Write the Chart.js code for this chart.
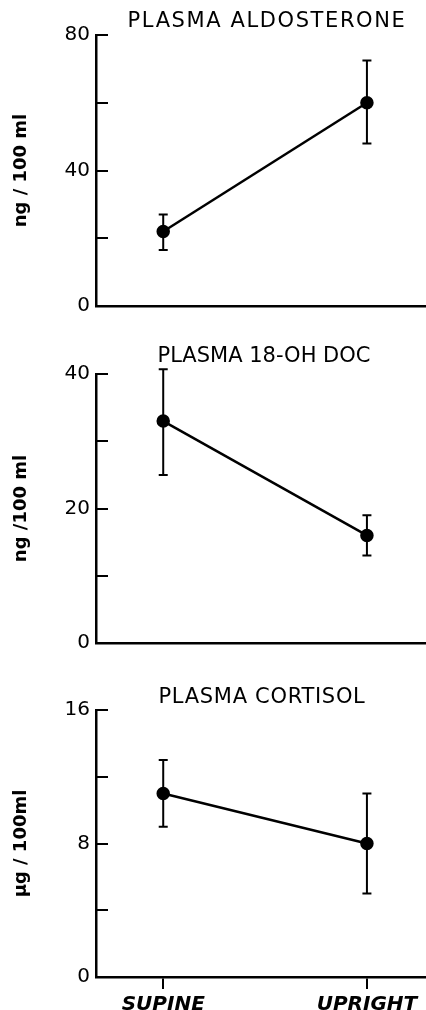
<!DOCTYPE html>
<html>
<head>
<meta charset="utf-8">
<script src="https://cdn.jsdelivr.net/npm/chart.js@4.4.1/dist/chart.umd.min.js"></script>
<style>
  html, body { margin: 0; padding: 0; background: #fff; }
  body { width: 426px; height: 1010px; position: relative; overflow: hidden; }
  canvas { position: absolute; left: 0; }
</style>
</head>
<body>
<canvas id="c1" width="426" height="330" style="top:0"></canvas>
<canvas id="c2" width="426" height="335" style="top:330px"></canvas>
<canvas id="c3" width="426" height="345" style="top:665px"></canvas>
<script>
// categories (x)
const positions = ["SUPINE", "UPRIGHT"];

// plasma aldosterone, ng/100 ml
const aldoMean = [22, 60];
const aldoLow = [16.5, 48];
const aldoHigh = [27, 72.5];
const aldoTicks = [0, 20, 40, 60, 80];
const aldoTickLabels = ["0", "", "40", "", "80"];

// plasma 18-OH DOC, ng/100 ml
const docMean = [33, 16];
const docLow = [25, 13];
const docHigh = [40.7, 19];
const docTicks = [0, 10, 20, 30, 40];
const docTickLabels = ["0", "", "20", "", "40"];

// plasma cortisol, ug/100 ml
const cortMean = [11, 8];
const cortLow = [9, 5];
const cortHigh = [13, 11];
const cortTicks = [0, 4, 8, 12, 16];
const cortTickLabels = ["0", "", "8", "", "16"];

const FONT = "'DejaVu Sans', sans-serif";

// 에러바 그리기
const errorBars = {
  id: "errorBars",
  afterDatasetsDraw(chart) {
    const ctx = chart.ctx;
    const y = chart.scales.y;
    const ds = chart.data.datasets[0];
    const meta = chart.getDatasetMeta(0);
    ctx.save();
    ctx.strokeStyle = "#000";
    ctx.lineWidth = 2;
    meta.data.forEach((pt, i) => {
      const yh = y.getPixelForValue(ds.errHigh[i]);
      const yl = y.getPixelForValue(ds.errLow[i]);
      ctx.beginPath();
      ctx.moveTo(pt.x, yh);
      ctx.lineTo(pt.x, yl);
      ctx.moveTo(pt.x - 4.5, yh);
      ctx.lineTo(pt.x + 4.5, yh);
      ctx.moveTo(pt.x - 4.5, yl);
      ctx.lineTo(pt.x + 4.5, yl);
      ctx.stroke();
    });
    ctx.restore();
  },
};

// y축 눈금은 안쪽으로, 제목은 그림 영역 위에 직접
const innerTicks = {
  id: "innerTicks",
  afterDraw(chart, args, opts) {
    const ctx = chart.ctx;
    const y = chart.scales.y;
    const area = chart.chartArea;
    ctx.save();
    ctx.strokeStyle = "#000";
    ctx.lineWidth = 2;
    y.ticks.forEach((t) => {
      const py = Math.round(y.getPixelForValue(t.value));
      ctx.beginPath();
      ctx.moveTo(area.left, py);
      ctx.lineTo(area.left + 12, py);
      ctx.stroke();
    });
    ctx.fillStyle = "#000";
    ctx.font = "21px " + FONT;
    ctx.letterSpacing = opts.spacing + "px";
    ctx.textAlign = "center";
    ctx.textBaseline = "middle";
    ctx.fillText(opts.text, (area.left + area.right) / 2 + opts.dx, opts.y);
    ctx.restore();
  },
};

function makePanel(id, opt) {
  const ctx = document.getElementById(id).getContext("2d");
  return new Chart(ctx, {
    type: "line",
    data: {
      datasets: [
        {
          data: opt.mean.map((v, i) => ({ x: i, y: v })),
          errLow: opt.low,
          errHigh: opt.high,
          borderColor: "#000",
          borderWidth: 2.5,
          pointRadius: 5.5,
          pointBackgroundColor: "#000",
          pointBorderColor: "#000",
          tension: 0,
          clip: false,
        },
      ],
    },
    options: {
      responsive: false,
      animation: false,
      devicePixelRatio: 1,
      layout: { padding: { top: opt.top, left: 0, right: 0, bottom: 0 }, autoPadding: false },
      plugins: {
        legend: { display: false },
        tooltip: { enabled: false },
        title: { display: false },
        innerTicks: { text: opt.title, y: opt.titleY, dx: opt.titleDx, spacing: opt.titleSpacing },
      },
      scales: {
        x: {
          type: "linear",
          min: -0.33,
          max: 1.29,
          afterBuildTicks: (s) => {
            s.ticks = positions.map((p, i) => ({ value: i }));
          },
          ticks: {
            display: opt.showX,
            callback: (v) => positions[v],
            color: "#000",
            font: { family: FONT, size: 20, style: "italic", weight: "bold" },
            padding: 4,
            maxRotation: 0,
            autoSkip: false,
          },
          grid: {
            display: opt.showX,
            drawOnChartArea: false,
            drawTicks: opt.showX,
            tickLength: 12,
            color: "#000",
            lineWidth: 2,
          },
          border: { display: true, color: "#000", width: 2.5 },
          afterFit: (s) => {
            s.height = opt.xHeight;
          },
        },
        y: {
          min: 0,
          max: opt.ticks[opt.ticks.length - 1],
          afterBuildTicks: (s) => {
            s.ticks = opt.ticks.map((v) => ({ value: v }));
          },
          ticks: {
            callback: (v, i) => opt.tickLabels[i],
            color: "#000",
            font: { family: FONT, size: 20 },
            padding: 6,
          },
          grid: { display: false, drawTicks: false },
          border: { display: true, color: "#000", width: 2.5 },
          title: {
            display: true,
            text: opt.yTitle,
            color: "#000",
            font: { family: FONT, size: 18, weight: "bold" },
            padding: { top: 11, bottom: 0 },
          },
          afterFit: (s) => {
            s.width = 96;
          },
        },
      },
    },
    plugins: [errorBars, innerTicks],
  });
}

makePanel("c1", {
  title: "PLASMA ALDOSTERONE", titleY: 22, titleDx: 6, titleSpacing: 1.6, top: 35,
  mean: aldoMean, low: aldoLow, high: aldoHigh,
  ticks: aldoTicks, tickLabels: aldoTickLabels,
  yTitle: "ng / 100 ml",
  showX: false, xHeight: 24,
});

makePanel("c2", {
  title: "PLASMA 18-OH DOC", titleY: 27, titleDx: 3, titleSpacing: 0, top: 44,
  mean: docMean, low: docLow, high: docHigh,
  ticks: docTicks, tickLabels: docTickLabels,
  yTitle: "ng /100 ml",
  showX: false, xHeight: 22,
});

makePanel("c3", {
  title: "PLASMA CORTISOL", titleY: 33, titleDx: 1, titleSpacing: 0.7, top: 45,
  mean: cortMean, low: cortLow, high: cortHigh,
  ticks: cortTicks, tickLabels: cortTickLabels,
  yTitle: "μg / 100ml",
  showX: true, xHeight: 33,
});
</script>
</body>
</html>
